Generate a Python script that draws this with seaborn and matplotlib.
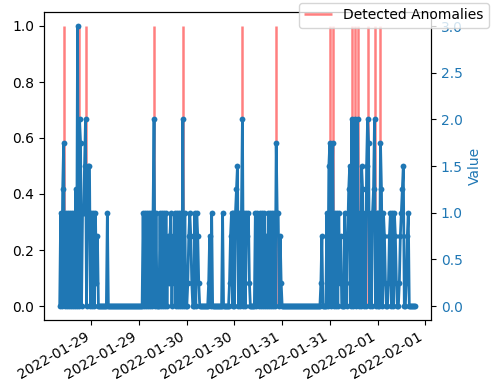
import pandas as pd
import matplotlib
matplotlib.use("Agg")
import matplotlib.pyplot as plt
import matplotlib.dates as mdates
import seaborn as sns

# Keep every vertex of the dense zig-zag series
plt.rcParams["path.simplify"] = False

# Sensor readings every 15 minutes starting at start_time.
# Each character is a level in quarter units: '0'..'8' -> 0.00..2.00, 'c' -> 3.00.
# One row covers six hours (24 samples).
start_time = "2022-01-28 16:00"
sample_step = "15min"
readings_rows = [
    "040570404040404050c08704",
    "468046604040413000000000",
    "400000000000000000000000",
    "000000000000404040404048",
    "040004040404031340314040",
    "404080400134310040431000",
    "000000130400000000004000",
    "000134040456040480404341",
    "000004043040404030404040",
    "407440310000000000000000",
    "000000000000000000000001",
    "300004067047040404130004",
    "103560804804804065040687",
    "040458040407504310013404",
    "04310013456001340000000",
]

# Timestamps flagged by the detector
anomaly_times = [
    "2022-01-28 17:00", "2022-01-28 20:15", "2022-01-28 20:45", "2022-01-28 22:30",
    "2022-01-29 15:45", "2022-01-29 23:00", "2022-01-30 14:00", "2022-01-30 22:30",
    "2022-01-31 12:00", "2022-01-31 12:45", "2022-01-31 17:30", "2022-01-31 18:15",
    "2022-01-31 19:00", "2022-01-31 21:30", "2022-01-31 23:15", "2022-02-01 00:45",
]

# Visible time window
view_start, view_end = "2022-01-28 12:03", "2022-02-01 13:28"

levels = [int(ch, 16) / 4 for ch in "".join(readings_rows)]
timestamps = pd.date_range(start_time, periods=len(levels), freq=sample_step)
df = pd.DataFrame({"timestamp": timestamps, "Value": levels})

W, H = 492, 383
fig, ax = plt.subplots(figsize=(W / 100, H / 100), dpi=100)
fig.subplots_adjust(left=44 / W, right=431 / W, bottom=1 - 320 / H, top=1 - 12 / H)

ax.vlines(pd.to_datetime(anomaly_times), 0, 1, colors="red", alpha=0.5,
          linewidth=1.8, label="Detected Anomalies")

ax2 = ax.twinx()
sns.lineplot(data=df, x="timestamp", y="Value", ax=ax2, color="tab:blue",
             marker="o", markersize=4.2, markeredgewidth=0, linewidth=2.0,
             estimator=None)
ax2.set_ylabel("Value", color="tab:blue")
ax2.tick_params(axis="y", labelcolor="tab:blue")

ax.set_xlim(pd.Timestamp(view_start), pd.Timestamp(view_end))
ax.xaxis.set_major_locator(mdates.HourLocator(byhour=[0, 12]))
ax.xaxis.set_major_formatter(mdates.DateFormatter("%Y-%m-%d"))
plt.setp(ax.get_xticklabels(), rotation=30, ha="right")
ax.set_xlabel("")

handles, labels = ax.get_legend_handles_labels()
fig.legend(handles, labels, loc="upper right", bbox_to_anchor=(1, 1),
           borderaxespad=0.2)

fig.savefig("out.png", dpi=100)
